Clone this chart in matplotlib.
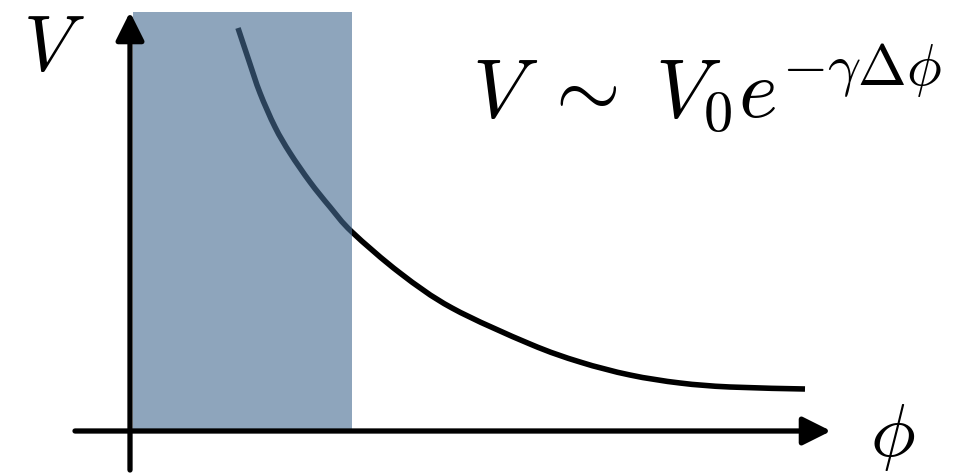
import matplotlib.pyplot as plt
from matplotlib.patches import Rectangle, PathPatch
from matplotlib.path import Path

plt.rcParams['mathtext.fontset'] = 'cm'

# potential curve, measured from the axis origin
phi = [108, 119, 130, 145, 160, 180, 200, 222, 270, 322, 400, 450, 500, 550, 600, 675]
V = [403, 370, 338, 304, 278, 249, 224, 199, 158, 123, 87, 69, 56, 48, 44, 42]

# shaded band
band_start, band_end = 3, 222
band_top = 419

formula = r'$V\;\sim\;V_0e^{-\gamma\Delta\phi}$'


def smooth_path(xs, ys):
    # Catmull-Rom through the points, written as cubic Bezier segments
    pts = list(zip(xs, ys))
    verts = [pts[0]]
    codes = [Path.MOVETO]
    for i in range(len(pts) - 1):
        p0 = pts[max(i - 1, 0)]
        p1 = pts[i]
        p2 = pts[i + 1]
        p3 = pts[min(i + 2, len(pts) - 1)]
        c1 = (p1[0] + (p2[0] - p0[0]) / 6, p1[1] + (p2[1] - p0[1]) / 6)
        c2 = (p2[0] - (p3[0] - p1[0]) / 6, p2[1] - (p3[1] - p1[1]) / 6)
        verts += [c1, c2, p2]
        codes += [Path.CURVE4] * 3
    return Path(verts, codes)


fig = plt.figure(figsize=(9.58, 4.74), dpi=100)
ax = fig.add_axes([0, 0, 1, 1])
ax.set_xlim(-130, 828)
ax.set_ylim(-43, 431)
ax.axis('off')

ax.add_patch(PathPatch(smooth_path(phi, V), fill=False, edgecolor='black',
                       lw=4.0, capstyle='butt', zorder=2))

ax.add_patch(Rectangle((band_start, 0), band_end - band_start, band_top,
                       facecolor='#466c92', alpha=0.61, lw=0, zorder=3))

arrow = dict(arrowstyle='-|>,head_length=0.9,head_width=0.45', mutation_scale=19,
             lw=3.8, color='black', shrinkA=0, shrinkB=0)
ax.annotate('', xy=(701, 0), xytext=(-55, 0), arrowprops=arrow, zorder=4)
ax.annotate('', xy=(0, 419), xytext=(0, -39), arrowprops=arrow, zorder=4)

ax.text(-107, 361, r'$V$', fontsize=56, ha='left', va='baseline')
ax.text(740, -25, r'$\phi$', fontsize=54, ha='left', va='baseline')
ax.text(342, 313, formula, fontsize=60, ha='left', va='baseline')

fig.savefig('out.png', dpi=100)
